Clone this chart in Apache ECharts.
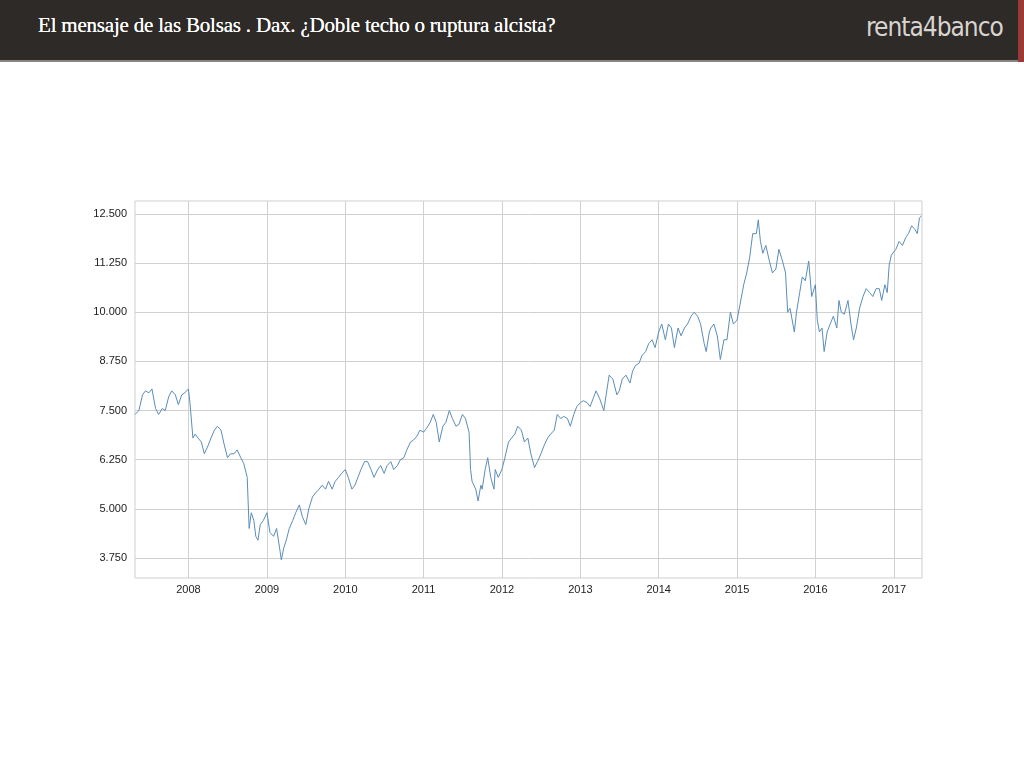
<!DOCTYPE html>
<html><head><meta charset="utf-8">
<script src="https://cdn.jsdelivr.net/npm/echarts@6/dist/echarts.min.js"></script>
<style>
html,body{margin:0;padding:0;background:#fff;width:1024px;height:768px;overflow:hidden}
#hdr{position:absolute;left:0;top:0;width:1024px;height:60px;background:#2e2a27;border-bottom:2px solid #8a8580}
#red{position:absolute;right:0;top:0;width:6px;height:62px;background:#9b3a34}
#title{position:absolute;left:38px;top:13px;color:#fff;font-family:"Liberation Serif",serif;font-size:21px;letter-spacing:-0.2px;text-shadow:0 0 0.6px #fff}
#logo{position:absolute;left:866px;top:12px;color:#d8d4d0;font-family:"DejaVu Sans Condensed","DejaVu Sans",sans-serif;font-weight:200;font-size:26px;letter-spacing:-1px}
#c{position:absolute;left:0;top:0;width:1024px;height:768px}
</style></head><body>
<div id="c"></div>
<div id="hdr"><div id="title">El mensaje de las Bolsas . Dax. ¿Doble techo o ruptura alcista?</div><div id="logo">renta4banco</div></div>
<div id="red"></div>
<script>
const dates = [
"2007-04-27","2007-05-01","2007-05-15","2007-06-01","2007-06-15","2007-07-01","2007-07-15","2007-08-01","2007-08-15","2007-09-01","2007-09-15","2007-10-01","2007-10-15","2007-11-01","2007-11-15","2007-12-01","2007-12-15",
"2008-01-01","2008-01-08","2008-01-22","2008-02-01","2008-02-15","2008-03-01","2008-03-15","2008-04-01","2008-04-15","2008-05-01","2008-05-15","2008-06-01","2008-06-15","2008-07-01","2008-07-15","2008-08-01","2008-08-15","2008-09-01","2008-09-15","2008-10-01","2008-10-10","2008-10-20","2008-11-01","2008-11-10","2008-11-20","2008-12-01","2008-12-15",
"2009-01-01","2009-01-15","2009-02-01","2009-02-15","2009-03-01","2009-03-09","2009-03-20","2009-04-01","2009-04-15","2009-05-01","2009-05-15","2009-06-01","2009-06-15","2009-07-01","2009-07-15","2009-08-01","2009-08-15","2009-09-01","2009-09-15","2009-10-01","2009-10-15","2009-11-01","2009-11-15","2009-12-01","2009-12-15",
"2010-01-01","2010-01-15","2010-02-01","2010-02-15","2010-03-01","2010-03-15","2010-04-01","2010-04-15","2010-05-01","2010-05-15","2010-06-01","2010-06-15","2010-07-01","2010-07-15","2010-08-01","2010-08-15","2010-09-01","2010-09-15","2010-10-01","2010-10-15","2010-11-01","2010-11-15","2010-12-01","2010-12-15",
"2011-01-01","2011-01-15","2011-02-01","2011-02-15","2011-03-01","2011-03-15","2011-04-01","2011-04-15","2011-05-01","2011-05-15","2011-06-01","2011-06-15","2011-07-01","2011-07-15","2011-08-01","2011-08-08","2011-08-15","2011-09-01","2011-09-12","2011-09-25","2011-10-01","2011-10-15","2011-10-27","2011-11-10","2011-11-25","2011-12-01","2011-12-15",
"2012-01-01","2012-01-15","2012-02-01","2012-02-15","2012-03-01","2012-03-15","2012-04-01","2012-04-15","2012-05-01","2012-05-15","2012-06-01","2012-06-15","2012-07-01","2012-07-15","2012-08-01","2012-08-15","2012-09-01","2012-09-15","2012-10-01","2012-10-15","2012-11-01","2012-11-15","2012-12-01","2012-12-15",
"2013-01-01","2013-01-15","2013-02-01","2013-02-15","2013-03-01","2013-03-15","2013-04-01","2013-04-20","2013-05-01","2013-05-15","2013-06-01","2013-06-20","2013-07-01","2013-07-15","2013-08-01","2013-08-20","2013-09-01","2013-09-15","2013-10-01","2013-10-15","2013-11-01","2013-11-15","2013-12-01","2013-12-15",
"2014-01-01","2014-01-15","2014-02-01","2014-02-15","2014-03-01","2014-03-15","2014-04-01","2014-04-15","2014-05-01","2014-05-15","2014-06-01","2014-06-15","2014-07-01","2014-07-15","2014-08-01","2014-08-10","2014-08-25","2014-09-01","2014-09-15","2014-10-01","2014-10-15","2014-11-01","2014-11-15","2014-12-01","2014-12-15",
"2015-01-01","2015-01-15","2015-02-01","2015-02-15","2015-03-01","2015-03-15","2015-04-01","2015-04-10","2015-04-20","2015-05-01","2015-05-15","2015-06-01","2015-06-15","2015-07-01","2015-07-15","2015-08-01","2015-08-15","2015-08-25","2015-09-05","2015-09-25","2015-10-05","2015-10-20","2015-11-01","2015-11-15","2015-12-01","2015-12-15",
"2016-01-01","2016-01-10","2016-01-20","2016-02-01","2016-02-11","2016-02-25","2016-03-10","2016-03-25","2016-04-10","2016-04-20","2016-05-01","2016-05-15","2016-06-01","2016-06-15","2016-06-27","2016-07-10","2016-07-25","2016-08-10","2016-08-25","2016-09-10","2016-09-25","2016-10-10","2016-10-25","2016-11-05","2016-11-20","2016-12-01","2016-12-10","2016-12-20",
"2017-01-10","2017-01-25","2017-02-10","2017-02-25","2017-03-10","2017-03-25","2017-04-10","2017-04-20","2017-04-30","2017-05-10"];
const values = [
7400,7450,7500,7900,8000,7950,8050,7550,7400,7550,7500,7850,8000,7900,7650,7900,7950,
8050,7700,6800,6900,6800,6700,6400,6600,6800,7000,7100,7000,6650,6300,6400,6400,6500,6300,6150,5800,4500,4900,4700,4300,4200,4600,4700,
4900,4400,4300,4500,4000,3700,4000,4200,4500,4700,4900,5100,4800,4600,5000,5300,5400,5500,5600,5500,5700,5500,5700,5800,5900,
6000,5800,5500,5600,5800,6000,6200,6200,6000,5800,6000,6100,5900,6100,6200,6000,6100,6250,6300,6500,6700,6750,6850,7000,
6950,7050,7200,7400,7200,6700,7100,7200,7500,7300,7100,7150,7400,7300,6950,6000,5700,5500,5200,5600,5500,6000,6300,5800,5500,6000,5800,
6000,6300,6700,6800,6900,7100,7000,6700,6800,6400,6050,6200,6400,6600,6800,6900,7000,7400,7300,7350,7300,7100,7400,7600,
7700,7750,7700,7600,7800,8000,7800,7500,7900,8400,8300,7900,8000,8300,8400,8200,8500,8650,8700,8900,9000,9200,9300,9100,
9500,9700,9300,9700,9600,9100,9600,9400,9600,9700,9900,10000,9900,9700,9200,9000,9500,9600,9700,9400,8800,9300,9300,10000,9700,
9800,10200,10700,11000,11400,12000,12000,12350,11800,11500,11700,11300,11000,11100,11600,11300,11000,10000,10100,9500,10000,10500,10900,10800,11300,10400,
10700,9800,9500,9600,9000,9500,9700,9900,9600,10300,10000,9950,10300,9700,9300,9600,10100,10400,10600,10500,10400,10600,10600,10300,10700,10500,11200,11450,
11600,11800,11700,11900,12000,12200,12100,12000,12400,12450];
const yTicks = [3750,5000,6250,7500,8750,10000,11250,12500];
const xTicks = ["2008","2009","2010","2011","2012","2013","2014","2015","2016","2017"];
const ts = d => Date.UTC(+d.slice(0,4), (+d.slice(5,7)||1)-1, +d.slice(8,10)||1);
const fmtNum = v => String(v).replace(/\B(?=(\d{3})+(?!\d))/g,'.');
const xTickTs = xTicks.map(y => ts(y+"-01-01"));
const chart = echarts.init(document.getElementById('c'));
const gridLine = {color:'#d0d0d0',width:1,type:'solid'};
chart.setOption({
  animation:false,
  grid:{left:135,right:102,top:201,bottom:190,show:true,borderColor:'#cfcfcf',borderWidth:1,backgroundColor:'#fff'},
  xAxis:{type:'value',min:ts("2007-04-27"),max:ts("2017-05-12"),
    axisLine:{show:false},axisTick:{show:false},splitLine:{show:false},
    axisLabel:{customValues:xTickTs,formatter:v=>String(new Date(v).getUTCFullYear()),color:'#222',fontFamily:'Arial, Liberation Sans',fontSize:11,margin:6}},
  yAxis:{type:'value',min:3240,max:12830,
    axisLine:{show:false},axisTick:{show:false},splitLine:{show:false},
    axisLabel:{customValues:yTicks,formatter:v=>fmtNum(v),color:'#222',fontFamily:'Arial, Liberation Sans',fontSize:11,margin:8}},
  series:[{type:'line',showSymbol:false,symbol:'none',
    data:dates.map((d,i)=>[ts(d),values[i]]),
    lineStyle:{color:'#5b8db8',width:1},z:5,
    markLine:{silent:true,symbol:'none',label:{show:false},lineStyle:gridLine,z:1,animation:false,
      data:[...yTicks.map(v=>({yAxis:v})),...xTickTs.map(v=>({xAxis:v}))]}}]
});
</script></body></html>
